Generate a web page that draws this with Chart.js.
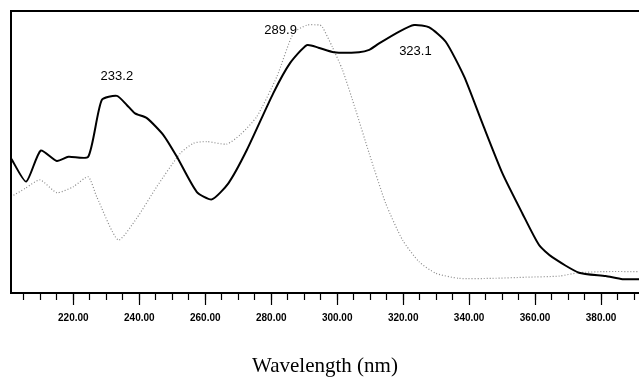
<!DOCTYPE html>
<html>
<head>
<meta charset="utf-8">
<script src="https://cdn.jsdelivr.net/npm/chart.js@4/dist/chart.umd.min.js"></script>
<style>
  body { margin: 0; background: #fff; }
  canvas { display: block; }
</style>
</head>
<body>
<canvas id="myChart" width="639" height="381"></canvas>
<script>
// solid trace (wavelength nm, absorbance)
var solidNm = [201.1, 205.7, 210.1, 215.0, 218.5, 224.5, 228.6, 233.2, 236.2, 238.7, 242.3, 247.3, 251.4, 257.4, 262.0, 267.0, 272.6, 280.6, 285.7, 290.8, 294.3, 299.0, 306.6, 309.7, 312.7, 318.8, 323.3, 327.9, 332.9, 338.5, 344.0, 350.1, 356.1, 361.2, 365.2, 373.3, 381.4, 386.5, 391.5]
var solidAbs = [0.478, 0.395, 0.505, 0.468, 0.483, 0.483, 0.684, 0.699, 0.667, 0.637, 0.620, 0.560, 0.483, 0.359, 0.332, 0.389, 0.507, 0.708, 0.815, 0.879, 0.870, 0.854, 0.854, 0.862, 0.885, 0.927, 0.950, 0.942, 0.891, 0.767, 0.602, 0.424, 0.283, 0.170, 0.127, 0.072, 0.060, 0.049, 0.049]

// dotted trace
var dottedNm = [201.1, 205.4, 209.9, 215.0, 220.0, 224.5, 227.1, 233.6, 239.2, 245.3, 252.4, 256.4, 260.4, 266.5, 270.5, 275.6, 281.7, 286.7, 290.8, 294.8, 295.5, 298.5, 301.6, 305.6, 309.7, 314.7, 319.8, 324.8, 329.9, 336.9, 347.1, 357.2, 367.3, 373.3, 381.4, 391.5]
var dottedAbs = [0.341, 0.371, 0.401, 0.356, 0.377, 0.412, 0.341, 0.188, 0.265, 0.377, 0.495, 0.531, 0.537, 0.528, 0.560, 0.625, 0.767, 0.921, 0.950, 0.950, 0.944, 0.873, 0.791, 0.649, 0.495, 0.318, 0.188, 0.111, 0.070, 0.052, 0.052, 0.056, 0.060, 0.072, 0.076, 0.076]

var peakLabels = ['233.2', '289.9', '323.1']
var peakAbs = [0.699, 0.950, 0.950]

var xMin = 201.1
var xMax = 391.5
var majorStep = 20
var minorStep = 5

function toPoints(xs, ys) {
    var pts = []
    for (let i = 0; i < xs.length; i++) {
        pts.push({ x: xs[i], y: ys[i] })
    }
    return pts
}

function stepTicks(step) {
    var t = []
    for (let v = Math.ceil(xMin / step) * step; v <= xMax; v += step) {
        t.push({ value: v })
    }
    return t
}

// frame (left + top lines) and peak annotations
var framePlugin = {
    id: 'frame',
    afterDatasetsDraw: function(chart) {
        var ctx = chart.ctx
        var a = chart.chartArea
        ctx.save()
        ctx.strokeStyle = '#000'
        ctx.lineWidth = 2
        ctx.beginPath()
        ctx.moveTo(a.left, a.bottom)
        ctx.lineTo(a.left, a.top)
        ctx.lineTo(a.right, a.top)
        ctx.stroke()

        // label placement: [dx, dy, align]
        var place = [[0, -19, 'center'], [-7, 5, 'right'], [2, 26, 'center']]
        ctx.fillStyle = '#000'
        ctx.font = '13px "Liberation Sans", Arial, sans-serif'
        ctx.textBaseline = 'middle'
        for (let i = 0; i < peakLabels.length; i++) {
            var px = chart.scales.x.getPixelForValue(Number(peakLabels[i]))
            var py = chart.scales.y.getPixelForValue(peakAbs[i])
            ctx.textAlign = place[i][2]
            ctx.fillText(peakLabels[i], px + place[i][0], py + place[i][1])
        }
        ctx.restore()
    }
}

new Chart("myChart", {
    type: "line",
    data: {
        datasets: [{
            label: 'solid',
            data: toPoints(solidNm, solidAbs),
            borderColor: "#000",
            borderWidth: 2,
            pointRadius: 0,
            tension: 0.2,
            fill: false
        }, {
            label: 'dotted',
            data: toPoints(dottedNm, dottedAbs),
            borderColor: "#8a8a8a",
            borderWidth: 1.2,
            borderDash: [1, 2],
            pointRadius: 0,
            tension: 0.2,
            fill: false
        }]
    },
    options: {
        responsive: false,
        animation: false,
        layout: { padding: { left: 11, top: 11, right: 0, bottom: 0 } },
        plugins: {
            legend: { display: false },
            tooltip: { enabled: false }
        },
        scales: {
            x: {
                type: 'linear',
                min: xMin,
                max: xMax,
                weight: 1,
                afterBuildTicks: function(s) { s.ticks = stepTicks(majorStep) },
                afterFit: function(s) { s.height = 88 },
                ticks: {
                    autoSkip: false,
                    maxRotation: 0,
                    padding: 7,
                    color: '#000',
                    font: { family: '"Liberation Sans", Arial, sans-serif', size: 10, weight: 'bold' },
                    callback: function(v) { return Number(v).toFixed(2) }
                },
                grid: { drawOnChartArea: false, tickLength: 12, tickColor: '#000', tickWidth: 1.2 },
                border: { display: true, color: '#000', width: 2 },
                title: {
                    display: true,
                    text: 'Wavelength (nm)',
                    color: '#000',
                    font: { family: '"Liberation Serif", "DejaVu Serif", serif', size: 21 },
                    padding: { top: 0, bottom: 2 }
                }
            },
            x2: {
                type: 'linear',
                position: 'bottom',
                min: xMin,
                max: xMax,
                weight: 0,
                afterBuildTicks: function(s) { s.ticks = stepTicks(minorStep) },
                afterFit: function(s) { s.height = 0 },
                ticks: { display: false, autoSkip: false },
                grid: { drawOnChartArea: false, tickLength: 7, tickColor: '#000', tickWidth: 1.2 },
                border: { display: false }
            },
            y: {
                display: false,
                min: 0,
                max: 1
            }
        }
    },
    plugins: [framePlugin]
});
</script>
</body>
</html>
